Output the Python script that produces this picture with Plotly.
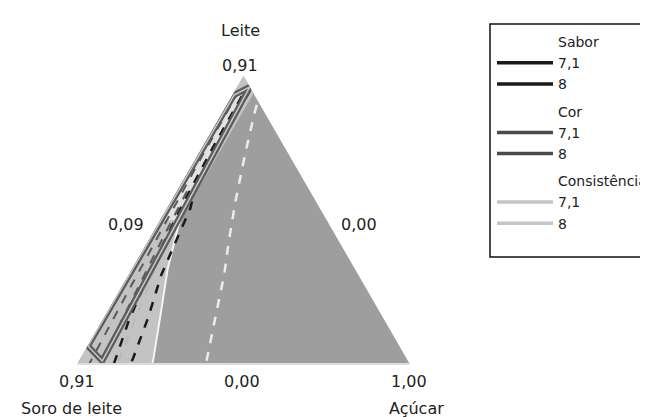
import plotly.graph_objects as go

# ---------------- data (ternary fractions: a = Leite, b = Soro de leite, c = Açúcar) -------------
# feasible (lighter) region boundary: white curve + strip along the Soro/Leite edge
light_a = [1.00, 0.00, 0.00, 0.16, 0.33, 0.47, 0.50, 0.94]
light_c = [0.00, 0.00, 0.225, 0.169, 0.107, 0.067, 0.060, 0.060]

# very light upper part of the highlighted strip
strip_a = [0.934, 0.962, 0.50, 0.50, 0.934]
strip_c = [0.0045, 0.038, 0.053, 0.003, 0.0045]

# white boundary curve
edge_a = [0.50, 0.47, 0.33, 0.16, 0.01, 0.00]
edge_c = [0.060, 0.067, 0.107, 0.169, 0.223, 0.225]

# Sabor contours
sabor71_a = [0.95, 0.80, 0.62, 0.54, 0.43, 0.31, 0.16, 0.02, 0.00]
sabor71_c = [0.045, 0.045, 0.047, 0.070, 0.083, 0.098, 0.133, 0.158, 0.160]
sabor8_a = [0.93, 0.75, 0.55, 0.35, 0.15, 0.00]
sabor8_c = [0.030, 0.032, 0.040, 0.055, 0.080, 0.110]

# Cor contours
cor71_a = [0.60, 0.45, 0.30, 0.15, 0.00]
cor71_c = [0.030, 0.038, 0.048, 0.058, 0.072]
cor8_a = [0.95, 0.70, 0.50, 0.25, 0.00]
cor8_c = [0.012, 0.015, 0.020, 0.027, 0.036]

# Consistência contours
cons71_a = [0.90, 0.88, 0.73, 0.56, 0.42, 0.31, 0.16, 0.00]
cons71_c = [0.090, 0.095, 0.140, 0.195, 0.245, 0.287, 0.335, 0.387]
cons8_a = [0.50, 0.35, 0.20, 0.00]
cons8_c = [0.050, 0.065, 0.090, 0.120]

# highlighted region (rectangle)
rect_a = [0.934, 0.962, 0.0104, 0.0625, 0.934]
rect_c = [0.0045, 0.038, 0.070, 0.001, 0.0045]

vertex_labels = ["0,91", "0,91", "1,00"]
side_labels = ["0,09", "0,00", "0,00"]
axis_names = ["Leite", "Soro de leite", "Açúcar"]
legend_groups = ["Sabor", "Cor", "Consistência"]
legend_levels = ["7,1", "8"]
legend_colors = ["#1a1a1a", "#4a4a4a", "#c4c4c4"]

FONT = "DejaVu Sans"


def bvals(a, c):
    return [round(1 - x - y, 6) for x, y in zip(a, c)]


fig = go.Figure()

fig.add_trace(go.Scatterternary(a=light_a, b=bvals(light_a, light_c), c=light_c,
                                mode="lines", fill="toself", fillcolor="#c3c3c3",
                                line=dict(width=0), showlegend=False, hoverinfo="skip"))
fig.add_trace(go.Scatterternary(a=strip_a, b=bvals(strip_a, strip_c), c=strip_c,
                                mode="lines", fill="toself", fillcolor="#e2e2e2",
                                line=dict(width=0), showlegend=False, hoverinfo="skip"))
fig.add_trace(go.Scatterternary(a=edge_a, b=bvals(edge_a, edge_c), c=edge_c,
                                mode="lines", line=dict(color="#f4f4f4", width=2),
                                showlegend=False, hoverinfo="skip"))

contours = [
    (cor8_a, cor8_c, "#5a5a5a", 2),
    (cor71_a, cor71_c, "#5a5a5a", 2),
    (cons8_a, cons8_c, "#b8b8b8", 2),
    (sabor8_a, sabor8_c, "#1a1a1a", 2.5),
    (sabor71_a, sabor71_c, "#1a1a1a", 2.5),
    (cons71_a, cons71_c, "#ececec", 2.5),
]
for a, c, col, w in contours:
    fig.add_trace(go.Scatterternary(a=a, b=bvals(a, c), c=c, mode="lines",
                                    line=dict(color=col, width=w, dash="dash"),
                                    showlegend=False, hoverinfo="skip"))

fig.add_trace(go.Scatterternary(a=rect_a, b=bvals(rect_a, rect_c), c=rect_c, mode="lines",
                                line=dict(color="#5c5c5c", width=6),
                                showlegend=False, hoverinfo="skip"))
fig.add_trace(go.Scatterternary(a=rect_a, b=bvals(rect_a, rect_c), c=rect_c, mode="lines",
                                line=dict(color="#c8c8c8", width=1.5),
                                showlegend=False, hoverinfo="skip"))

# legend: a title entry (no swatch) followed by the two levels, per response
for g, col in zip(legend_groups, legend_colors):
    fig.add_trace(go.Scatterternary(a=[None], b=[None], c=[None], mode="lines",
                                    line=dict(color="rgba(0,0,0,0)", width=0),
                                    name=g, legendgroup=g, showlegend=True))
    for lev in legend_levels:
        fig.add_trace(go.Scatterternary(a=[None], b=[None], c=[None], mode="lines",
                                        line=dict(color=col, width=3.5),
                                        name=lev, legendgroup=g, showlegend=True))

hidden_axis = dict(showticklabels=False, ticks="", showgrid=False, showline=False,
                   title=dict(text=""))
fig.update_layout(
    width=648, height=417,
    margin=dict(l=0, r=0, t=0, b=0),
    paper_bgcolor="white",
    font=dict(family=FONT, size=16, color="#222222"),
    ternary=dict(
        domain=dict(x=[69 / 648, 402 / 648], y=[1 - 356 / 417, 1 - 68 / 417]),
        bgcolor="#9e9e9e",
        sum=1,
        aaxis=hidden_axis,
        baxis=dict(showticklabels=False, ticks="", showgrid=False, showline=True,
                   linecolor="#dddddd", linewidth=2, title=dict(text="")),
        caxis=hidden_axis,
    ),
    legend=dict(x=484 / 648, y=1 - 18 / 417, xanchor="left", yanchor="top",
                borderwidth=0, bgcolor="rgba(0,0,0,0)",
                font=dict(family=FONT, size=14, color="#222222"),
                tracegroupgap=6, itemwidth=56, traceorder="grouped"),
    showlegend=True,
)

# legend frame (right side runs off the page as in the reference)
fig.add_shape(type="rect", xref="paper", yref="paper",
              x0=482 / 648, x1=1.02, y0=1 - 249 / 417, y1=1 - 16 / 417,
              line=dict(color="#111111", width=1.5), fillcolor="rgba(0,0,0,0)", layer="below")

ann = [
    (axis_names[0], 232, 22), (vertex_labels[0], 232, 57),
    (side_labels[0], 118, 216), (side_labels[1], 351, 216),
    (vertex_labels[1], 69, 373), (side_labels[2], 234, 373), (vertex_labels[2], 401, 373),
    (axis_names[1], 63, 400), (axis_names[2], 408, 400),
]
for t, px, py in ann:
    fig.add_annotation(text=t, x=px / 648, y=1 - py / 417, xref="paper", yref="paper",
                       showarrow=False, xanchor="center", yanchor="middle",
                       font=dict(family=FONT, size=16, color="#222222"))

fig.write_html("out.html")
